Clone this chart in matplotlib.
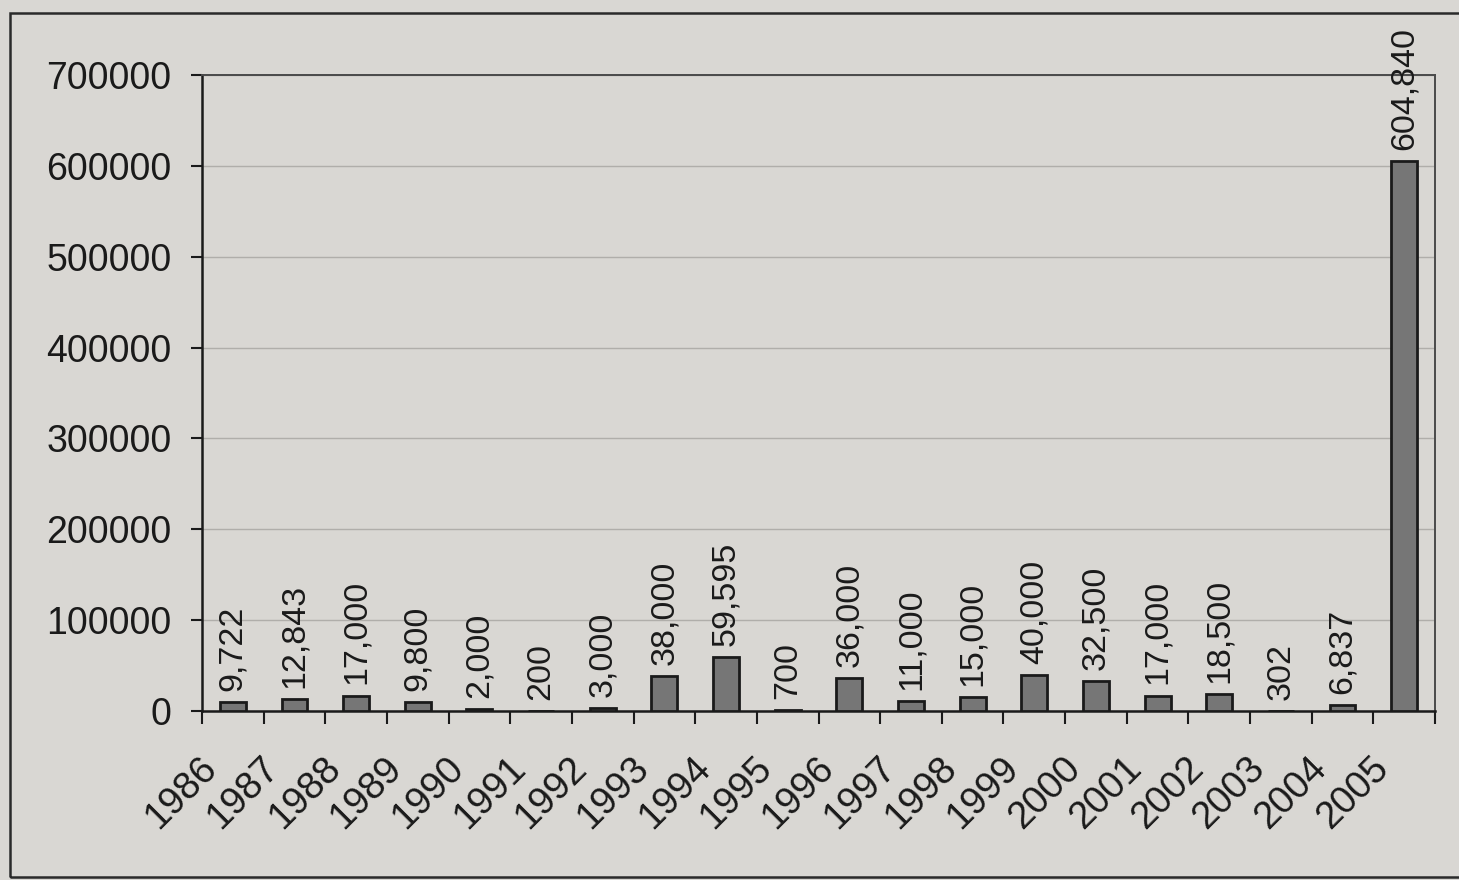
import matplotlib
matplotlib.use("Agg")
import matplotlib.pyplot as plt
from matplotlib.patches import Rectangle
import matplotlib.transforms as mtransforms

years = ['1986', '1987', '1988', '1989', '1990', '1991', '1992', '1993', '1994', '1995',
         '1996', '1997', '1998', '1999', '2000', '2001', '2002', '2003', '2004', '2005']
values = [9722, 12843, 17000, 9800, 2000, 200, 3000, 38000, 59595, 700,
          36000, 11000, 15000, 40000, 32500, 17000, 18500, 302, 6837, 604840]
y_ticks = [0, 100000, 200000, 300000, 400000, 500000, 600000, 700000]

bg = '#d9d7d3'
plt.rcParams['font.family'] = ['Liberation Sans', 'DejaVu Sans']

fig = plt.figure(figsize=(14.59, 8.8), dpi=100, facecolor=bg)
ax = fig.add_axes([202 / 1459, 1 - 711 / 880, (1435 - 202) / 1459, (711 - 75) / 880])
ax.set_facecolor(bg)

x = list(range(len(years)))
ax.bar(x, values, width=0.42, color='#767676', edgecolor='#1a1a1a', linewidth=2, zorder=3)

# data labels, rotated like the Excel chart
for xi, v in zip(x, values):
    ax.annotate(f'{v:,}', (xi, v), xytext=(0, 8), textcoords='offset points',
                rotation=90, ha='center', va='bottom', fontsize=24.5, color='#1a1a1a')

ax.set_xlim(-0.5, len(years) - 0.5)
ax.set_ylim(0, 700000)
ax.set_yticks(y_ticks)
ax.set_yticklabels([str(t) for t in y_ticks], fontsize=27, color='#1a1a1a')
ax.yaxis.grid(True, color='#b0aeaa', linewidth=1, zorder=0)

ax.set_xticks([i - 0.5 for i in range(len(years) + 1)])
ax.set_xticklabels([])
ax.set_xticks(x, minor=True)
ax.set_xticklabels(years, minor=True, rotation=45, ha='right', rotation_mode='anchor',
                   fontsize=27.5, color='#1a1a1a')
ax.tick_params(axis='x', which='minor', length=0, pad=14)
ax.tick_params(axis='x', which='major', direction='out', length=9, width=1.5, color='#1a1a1a')
ax.tick_params(axis='y', direction='out', length=8, width=1.5, color='#1a1a1a', pad=14)

offset = mtransforms.ScaledTranslation(-34 / 100, -20 / 100, fig.dpi_scale_trans)
for lab in ax.get_xticklabels(minor=True):
    lab.set_transform(lab.get_transform() + offset)

for side in ['left', 'bottom']:
    ax.spines[side].set_color('#1a1a1a')
    ax.spines[side].set_linewidth(1.8)
for side in ['top', 'right']:
    ax.spines[side].set_color('#4a4a4a')
    ax.spines[side].set_linewidth(1.4)

# outer chart frame
frame = Rectangle((10 / 1459, 3 / 880), 1.2, 1 - 16 / 880, transform=fig.transFigure,
                  fill=False, edgecolor='#2a2a2a', linewidth=1.8, clip_on=False)
fig.patches.append(frame)

fig.savefig('out.png', dpi=100, facecolor=bg)
